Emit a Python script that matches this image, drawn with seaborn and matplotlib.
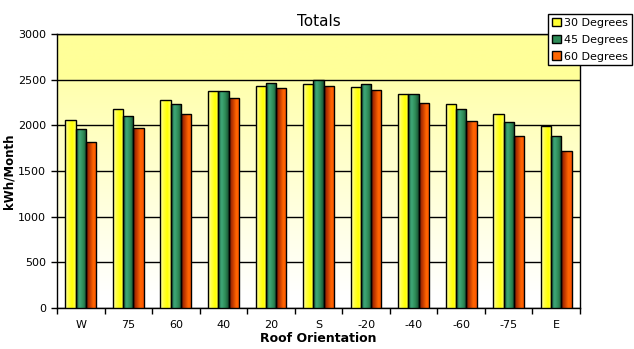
import numpy as np
import pandas as pd
import matplotlib
matplotlib.use("Agg")
import matplotlib.pyplot as plt
import seaborn as sns
from matplotlib.colors import LinearSegmentedColormap

categories = ["W", "75", "60", "40", "20", "S", "-20", "-40", "-60", "-75", "E"]
series_names = ["30 Degrees", "45 Degrees", "60 Degrees"]
deg30 = [2058, 2179, 2277, 2376, 2431, 2453, 2420, 2343, 2234, 2124, 1993]
deg45 = [1960, 2102, 2234, 2376, 2464, 2492, 2453, 2343, 2179, 2036, 1883]
deg60 = [1818, 1971, 2124, 2299, 2409, 2431, 2387, 2245, 2047, 1883, 1719]
yticks = [0, 500, 1000, 1500, 2000, 2500, 3000]

df = pd.DataFrame({
    "Orientation": categories * 3,
    "Series": sum([[s] * len(categories) for s in series_names], []),
    "Value": deg30 + deg45 + deg60,
})

sns.set_theme(style="white")
plt.rcParams["font.family"] = ["DejaVu Sans"]
plt.rcParams["text.color"] = "black"
plt.rcParams["axes.labelcolor"] = "black"
plt.rcParams["xtick.color"] = "black"
plt.rcParams["ytick.color"] = "black"

fig = plt.figure(figsize=(6.34, 3.49), dpi=100)
ax = fig.add_axes([57 / 634, 41 / 349, 523 / 634, 274 / 349])

base_colors = ["#FFFF33", "#2E8B57", "#FF6600"]
ax = sns.barplot(data=df, x="Orientation", y="Value", hue="Series",
                 order=categories, hue_order=series_names,
                 palette=base_colors, width=0.65, edgecolor="black",
                 linewidth=1.0, saturation=1, ax=ax, zorder=3)

# background gradient
ax.set_xlim(-0.5, len(categories) - 0.5)
ax.set_ylim(0, 3000)
yy = np.linspace(0, 3000, 300)
frac = np.clip((yy - 150) / (2500 - 150), 0, 1)
frac = np.where(yy >= 2500, 1.0, frac * 0.8)
top = np.array([1.0, 1.0, 0.6])
white = np.array([1.0, 1.0, 1.0])
bg = white[None, :] * (1 - frac[:, None]) + top[None, :] * frac[:, None]
ax.imshow(bg[:, None, :], extent=[-0.5, len(categories) - 0.5, 0, 3000],
          origin="lower", aspect="auto", zorder=0)

# bar gradients
grads = [
    ["#FFFFB0", "#FFFF40", "#FFFF00", "#FFFF60"],
    ["#1E6040", "#3FA878", "#2E8B57", "#174F33"],
    ["#7A1A00", "#C03800", "#FF6600", "#FF5500"],
]
for i, cont in enumerate(ax.containers):
    cmap = LinearSegmentedColormap.from_list(f"g{i}", grads[i])
    for p in cont.patches:
        x0, y0 = p.get_x(), p.get_y()
        w, h = p.get_width(), p.get_height()
        im = ax.imshow(np.linspace(0, 1, 64)[None, :], cmap=cmap,
                       extent=[x0, x0 + w, y0, y0 + h], aspect="auto",
                       zorder=3.5, origin="lower")
        im.set_clip_path(p)
        p.set_facecolor("none")
        p.set_zorder(4)
ax.set_xlim(-0.5, len(categories) - 0.5)
ax.set_ylim(0, 3000)

ax.set_yticks(yticks)
ax.set_yticklabels([str(v) for v in yticks], fontsize=8, color="black")
ax.yaxis.grid(True, color="black", linewidth=1.0, zorder=1)
ax.set_axisbelow(True)
for s in ax.spines.values():
    s.set_color("black")
    s.set_linewidth(1.0)
    s.set_visible(True)

ax.set_xticks(range(len(categories)))
ax.set_xticklabels(categories, fontsize=8, color="black")
ax.set_xticks(np.arange(-0.5, len(categories), 1.0), minor=True)
ax.tick_params(axis="x", which="major", length=0, pad=9)
ax.tick_params(axis="x", which="minor", length=4, width=1, color="black", direction="out", bottom=True)
ax.tick_params(axis="y", length=4, width=1, color="black", direction="out", left=True, pad=4)

ax.set_xlabel("Roof Orientation", fontsize=9, fontweight="bold", labelpad=1, color="black")
ax.set_ylabel("kWh/Month", fontsize=8.5, fontweight="bold", color="black")
ax.yaxis.set_label_coords((16 - 57) / 523, 0.5)
ax.set_title("Totals", fontsize=11, pad=6, color="black")

leg = ax.legend(loc="upper left", bbox_to_anchor=(548 / 634, 1 - 14 / 349),
                bbox_transform=fig.transFigure, fontsize=8, frameon=True,
                fancybox=False, edgecolor="black", framealpha=1,
                handlelength=0.8, handleheight=0.8, handletextpad=0.3,
                borderpad=0.35, labelspacing=0.6, borderaxespad=0)
leg.get_frame().set_linewidth(1.0)
for t in leg.get_texts():
    t.set_color("black")
for h, c in zip(leg.legend_handles, base_colors):
    h.set_facecolor(c)
    h.set_edgecolor("black")

fig.savefig("out.png", dpi=100, facecolor="white")
